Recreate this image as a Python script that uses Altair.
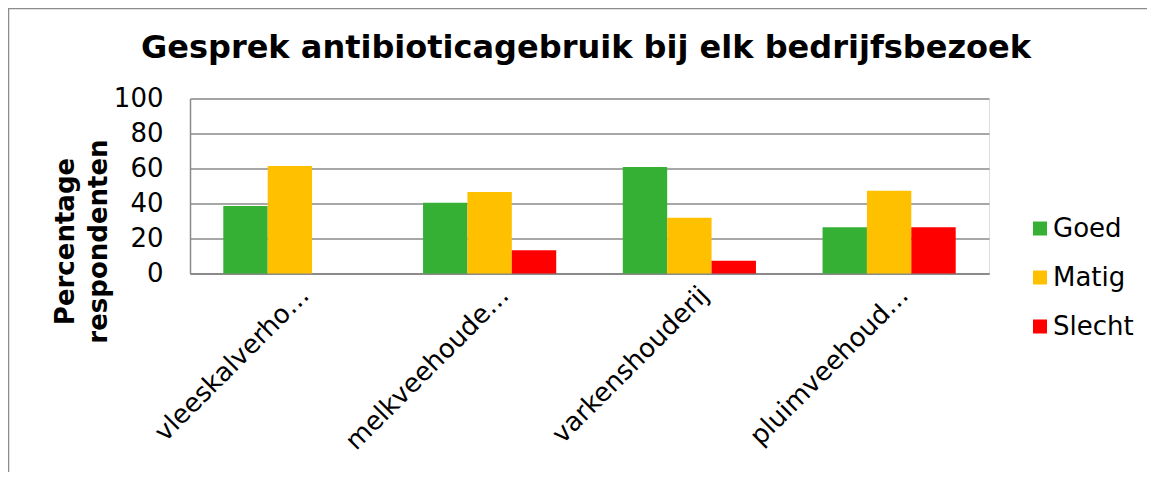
import altair as alt
import pandas as pd

title_text = "Gesprek antibioticagebruik bij elk bedrijfsbezoek"
categories = ["vleeskalverho…", "melkveehoude…", "varkenshouderij", "pluimveehoud…"]
series_names = ["Goed", "Matig", "Slecht"]
goed = [38.6, 40.5, 60.9, 26.4]
matig = [61.4, 46.6, 31.9, 47.3]
slecht = [0.0, 13.3, 7.3, 26.4]
colors = ["#35b035", "#ffc000", "#ff0000"]
y_ticks = [0, 20, 40, 60, 80, 100]

rows = []
for s_name, vals in zip(series_names, [goed, matig, slecht]):
    for c, v in zip(categories, vals):
        rows.append({"category": c, "series": s_name, "value": v})
df = pd.DataFrame(rows)

FONT = "DejaVu Sans"
GRID = "#8a8a8a"

bars = alt.Chart(df).mark_bar().encode(
    x=alt.X(
        "category:N",
        sort=categories,
        scale=alt.Scale(paddingInner=1 / 3, paddingOuter=1 / 6),
        axis=alt.Axis(
            title=None,
            labelAngle=-45,
            labelAlign="right",
            labelBaseline="top",
            labelFontSize=26,
            labelPadding=8,
            labelOffset=6,
            labelLimit=500,
            ticks=False,
            domainColor=GRID,
            domainWidth=2,
            labelColor="black",
            labelFont=FONT,
            grid=False,
        ),
    ),
    y=alt.Y(
        "value:Q",
        scale=alt.Scale(domain=[0, 100], nice=False),
        axis=alt.Axis(
            values=y_ticks,
            title=["Percentage", "respondenten"],
            titleFont=FONT,
            titleFontSize=26,
            titleFontWeight="bold",
            titleColor="black",
            titleX=-125,
            titleY=142.5,
            titleAlign="center",
            titleBaseline="middle",
            titleAngle=270,
            titleLineHeight=33,
            labelFont=FONT,
            labelFontSize=26,
            labelColor="black",
            labelPadding=27,
            ticks=False,
            domain=True,
            domainColor=GRID,
            domainWidth=1.5,
            grid=True,
            gridColor=GRID,
            gridWidth=1.5,
        ),
    ),
    xOffset=alt.XOffset(
        "series:N",
        sort=series_names,
        scale=alt.Scale(paddingInner=0, paddingOuter=0),
    ),
    color=alt.Color(
        "series:N",
        sort=series_names,
        scale=alt.Scale(domain=series_names, range=colors),
        legend=alt.Legend(
            title=None,
            orient="none",
            legendX=837,
            legendY=117,
            symbolType="square",
            symbolSize=196,
            symbolStrokeWidth=0,
            labelFont=FONT,
            labelFontSize=26,
            labelColor="black",
            labelOffset=0,
            rowPadding=23,
            padding=0,
        ),
    ),
)

title = alt.Chart(pd.DataFrame({"t": [title_text]})).mark_text(
    font=FONT,
    fontSize=32,
    fontWeight="bold",
    color="black",
    align="center",
    baseline="alphabetic",
).encode(
    text="t:N",
    x=alt.value(396),
    y=alt.value(-40.5),
)

border = alt.Chart(pd.DataFrame({"a": [0]})).mark_rect(
    filled=False, stroke="#8c8c8c", strokeWidth=1.5
).encode(
    x=alt.value(-181.5),
    x2=alt.value(1300),
    y=alt.value(-90),
    y2=alt.value(700),
)

chart = (
    alt.layer(border, title, bars)
    .properties(
        width=799,
        height=175,
        autosize=alt.AutoSizeParams(type="none"),
        padding={"left": 182, "top": 90.5, "right": 158, "bottom": 198},
    )
    .configure_view(stroke=None)
    .configure(background="white")
)

chart.save("out.html", embed_options={"renderer": "svg", "actions": False})
